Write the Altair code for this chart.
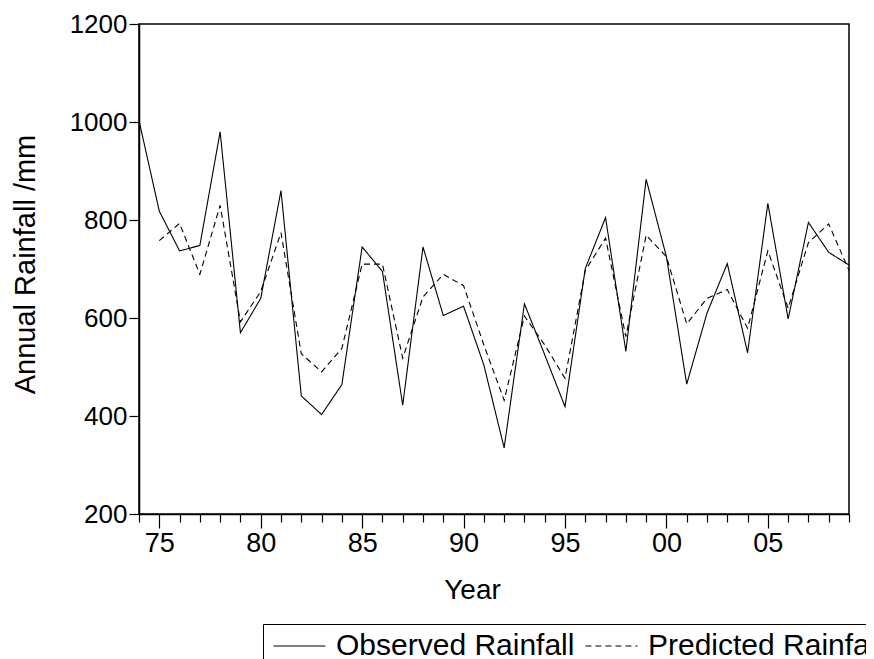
import altair as alt
import pandas as pd

years = list(range(1974, 2010))
observed = [1003, 818, 737, 748, 980, 570, 640, 860, 441, 403, 464, 745, 695, 422,
            745, 605, 624, 504, 335, 629, 525, 419, 701, 805, 532, 883, 725, 465,
            610, 711, 529, 834, 598, 795, 734, 708]
predicted = [None, 758, 793, 689, 830, 592, 654, 774, 527, 490, 538, 710, 710, 518,
             643, 689, 666, 545, 432, 604, 545, 477, 697, 763, 562, 769, 725, 588,
             640, 658, 579, 737, 620, 754, 792, 697]
series_names = ["Observed Rainfall", "Predicted Rainfall"]
y_ticks = [200, 400, 600, 800, 1000, 1200]

df = pd.DataFrame({"Year": years, series_names[0]: observed, series_names[1]: predicted})
long = df.melt(id_vars="Year", var_name="Series", value_name="Rainfall").dropna()

FONT = "Liberation Sans"

chart = alt.Chart(long).mark_line(color="black", strokeWidth=1.1).encode(
    x=alt.X("Year:Q",
            scale=alt.Scale(domain=[1974, 2009], nice=False, zero=False),
            axis=alt.Axis(values=years, title="Year",
                          labelExpr="datum.value % 5 === 0 ? substring(toString(datum.value), 2) : ''",
                          tickSize={"condition": {"test": "datum.value % 5 === 0", "value": 14}, "value": 8},
                          labelPadding=2, labelFontSize=27,
                          titleFontSize=28, titleFontWeight="normal",
                          titleX=333, titleY=76, titleBaseline="middle",
                          grid=False, domainColor="black", domainWidth=1.5,
                          tickColor="black", tickWidth=1.2, labelColor="black",
                          titleColor="black")),
    y=alt.Y("Rainfall:Q",
            scale=alt.Scale(domain=[200, 1200], nice=False, zero=False),
            axis=alt.Axis(values=y_ticks, format="d", title="Annual Rainfall /mm",
                          tickSize=10, labelPadding=2, labelFontSize=26,
                          titleFontSize=29, titleFontWeight="normal",
                          titleX=-114, titleY=240, titleBaseline="middle", titleAngle=270,
                          grid=False, domainColor="black", domainWidth=1.5,
                          tickColor="black", tickWidth=1.2, labelColor="black",
                          titleColor="black")),
    strokeDash=alt.StrokeDash("Series:N",
                              scale=alt.Scale(domain=series_names, range=[[1, 0], [6, 4]]),
                              legend=alt.Legend(title=None, orient="none", direction="horizontal",
                                                legendX=124, legendY=600,
                                                symbolType="M-1.05,0H3.68", symbolSize=484,
                                                symbolStrokeColor="black", symbolStrokeWidth=1.1,
                                                symbolFillColor="transparent",
                                                labelFontSize=30, labelColor="black",
                                                labelOffset=36, columnPadding=7,
                                                padding=7, strokeColor="black",
                                                fillColor="white", labelLimit=400)),
).properties(
    width=710, height=490,
    padding={"left": 131, "top": 16, "right": 17, "bottom": 145},
    autosize=alt.AutoSizeParams(type="none"),
).configure(font=FONT).configure_view(stroke="black", strokeWidth=1.5)

chart.save("out.html", embed_options={"renderer": "svg", "actions": False})
